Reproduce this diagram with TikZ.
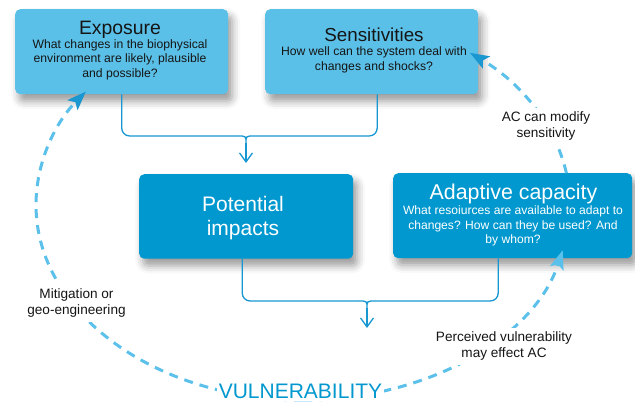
\documentclass[tikz,border=0pt]{standalone}
\usepackage{fontspec}
\setmainfont{Liberation Sans}
\usetikzlibrary{arrows.meta,calc,shadows.blur}

\definecolor{boxlight}{HTML}{5BC0E8}
\definecolor{boxdark}{HTML}{0098CE}
\definecolor{wire}{HTML}{1797D2}
\definecolor{loopdash}{HTML}{5BC0EA}
\definecolor{loophead}{HTML}{1A97D0}
\definecolor{ink}{HTML}{151515}

% centred stack of lines whose baseline is the first line
\newcommand{\bxlines}[1]{\begin{tabular}[t]{@{}c@{}}#1\end{tabular}}

\begin{document}
\begin{tikzpicture}[x=1pt, y=-1pt,
  panel/.style={rounded corners=5pt, anchor=north west, inner sep=0pt, draw=none,
    blur shadow={shadow xshift=4pt, shadow yshift=-7pt, shadow blur radius=8pt, shadow opacity=40}},
  lightpanel/.style={panel, fill=boxlight},
  darkpanel/.style={panel, fill=boxdark},
  heading/.style={inner sep=0pt, anchor=base},
  bodytext/.style={inner sep=0pt, anchor=base, font=\fontsize{12.2}{14.5}\selectfont},
  note/.style={anchor=base, fill=white, inner sep=3pt, text=ink,
    font=\fontsize{13.6}{15.8}\selectfont},
  wire/.style={draw=wire, line width=1.3pt},
  wirearrow/.style={wire, -{Straight Barb[length=9pt,width=13pt,line width=1.3pt]}},
  loop/.style={draw=loopdash, line width=3pt, dash pattern=on 9pt off 7pt},
  darktip/.style={-{Stealth[length=19pt,width=14pt,inset=4pt,color=loophead]}},
  lighttip/.style={-{Stealth[length=19pt,width=14pt,inset=4pt,color=loopdash]}},
]
\useasboundingbox (0,0) rectangle (635,403);

% ---- the four boxes
\node[lightpanel, minimum width=213pt, minimum height=85pt] (exposure) at (15,9) {};
\node[lightpanel, minimum width=213pt, minimum height=85pt] (sensitivities) at (265,9) {};
\node[darkpanel, minimum width=214pt, minimum height=84.5pt] (impacts) at (139,174) {};
\node[darkpanel, minimum width=239pt, minimum height=85pt] (capacity) at (393,173) {};

% ---- box texts
\node[heading, text=ink, font=\fontsize{19.4}{23}\selectfont] (exposureTitle) at (120,35) {Exposure};
\node[bodytext, text=ink] (exposureText) at (120,48.5)
  {\bxlines{What changes in the biophysical\\environment are likely, plausible\\and possible?}};

\node[heading, text=ink, font=\fontsize{18.8}{23}\selectfont] (sensTitle) at (374,41.7) {Sensitivities};
\node[bodytext, text=ink] (sensText) at (374,55.7)
  {\bxlines{How well can the system deal with\\changes and shocks?}};

\node[heading, text=white, font=\fontsize{21}{24.3}\selectfont] (impactsTitle) at (243,211.7)
  {\bxlines{Potential\\impacts}};

\node[heading, text=white, font=\fontsize{21.4}{25}\selectfont] (capacityTitle) at (513.5,199.3) {Adaptive capacity};
\node[bodytext, text=white, font=\fontsize{12.1}{14.2}\selectfont] (capacityText) at (513,215)
  {\bxlines{What resoiurces are available to adapt to\\changes? How can they be used? And\\by whom?}};

% ---- upper brace: exposure and sensitivities feed potential impacts
\coordinate (expOut) at (exposure.south);
\coordinate (sensOut) at ($(sensitivities.south)+(5.5,0)$);
\coordinate (topL) at (238,136);
\coordinate (topR) at (254,136);
\coordinate (topC) at (246,136);
\coordinate (topJ) at (246,143);
\coordinate (topTip) at (246,163);
\draw[wire, rounded corners=8pt] (expOut) |- (topL);
\draw[wire, rounded corners=8pt] (sensOut) |- (topR);
\draw[wire] (topL) .. controls (topC) .. (topJ) .. controls (topC) .. (topR);
\draw[wirearrow] (topJ) -- (topTip);

% ---- lower brace: impacts and capacity feed vulnerability
\coordinate (impOut) at ($(impacts.south)+(-4,0)$);
\coordinate (capOut) at ($(capacity.south)+(-14.5,0)$);
\coordinate (botL) at (359,301);
\coordinate (botR) at (375,301);
\coordinate (botC) at (367,301);
\coordinate (botJ) at (367,308);
\coordinate (botTip) at (367,328);
\draw[wire, rounded corners=8pt] (impOut) |- (botL);
\draw[wire, rounded corners=8pt] (capOut) |- (botR);
\draw[wire] (botL) .. controls (botC) .. (botJ) .. controls (botC) .. (botR);
\draw[wirearrow] (botJ) -- (botTip);

% ---- dashed feedback loop around the diagram
\coordinate (ring) at (303,205);
\draw[loop, darktip] ([shift={(90:267 and 195)}]ring)
  arc[start angle=90, end angle=215.6, x radius=267, y radius=195];
\draw[loop, lighttip] ([shift={(90:267 and 195)}]ring)
  arc[start angle=90, end angle=13.4, x radius=267, y radius=195];
\draw[loop, darktip] ([shift={(-9.4:267 and 195)}]ring)
  arc[start angle=-9.4, end angle=-51.3, x radius=267, y radius=195];

% ---- loop labels
\node[note] (acNote) at (546,121.7) {\bxlines{AC can modify\\sensitivity}};
\node[note] (mitigationNote) at (76.5,298.3) {\bxlines{Mitigation or\\geo-engineering}};
\node[note] (perceivedNote) at (504,341.7) {\bxlines{Perceived vulnerability\\may effect AC}};
\node[anchor=base, fill=white, inner sep=2pt, text=boxdark, font=\fontsize{21}{25}\selectfont]
  (vulnerability) at (300.5,399) {VULNERABILITY};
\end{tikzpicture}
\end{document}
